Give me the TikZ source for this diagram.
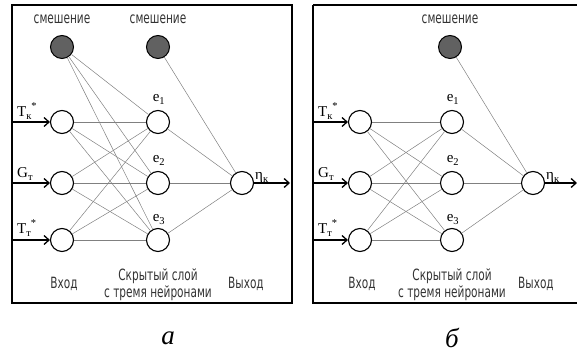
\documentclass[tikz,border=0pt]{standalone}
\usepackage{fontspec}
\setmainfont{Liberation Serif}
\newfontfamily\gost[FakeStretch=0.68]{DejaVu Sans}
\usetikzlibrary{arrows.meta}
\newcommand\lblss[3]{#1\textsubscript{#2}\kern-0.5pt\raisebox{2pt}{\textsuperscript{#3}}}
\begin{document}
\begin{tikzpicture}[x=1pt,y=-1pt,
  neuron/.style={circle,draw,fill=white,line width=1.1pt,minimum size=23pt,inner sep=0pt},
  bias/.style={circle,draw,fill=black!62,line width=1pt,minimum size=23pt,inner sep=0pt},
  conn/.style={draw=black!50,line width=0.5pt},
  inarrow/.style={line width=1.3pt,-{Straight Barb[length=5pt,width=9pt]}},
  gtext/.style={font=\gost\fontsize{15.5}{15.5}\selectfont,text=black!80,inner sep=0pt},
  ltext/.style={font=\fontsize{15}{15}\selectfont,inner sep=0pt},
  captext/.style={font=\itshape\fontsize{27}{27}\selectfont,inner sep=0pt},
  frame/.style={line width=1.5pt}]
\useasboundingbox (0,0) rectangle (577,352);
% ---------- panel a ----------
\draw[frame] (12,5) rectangle (292,303);
\node[bias] (ab1) at (62,47) {};
\node[bias] (ab2) at (158,47) {};
\foreach \i/\y in {1/122,2/183,3/240}{
  \node[neuron] (ai\i) at (62,\y) {};
  \node[neuron] (ah\i) at (158,\y) {};
  \coordinate (aL\i) at (12.5,\y);
}
\node[neuron] (ao) at (242,183) {};
\coordinate (aR) at (290,183);
\foreach \i in {1,2,3}{
  \foreach \j in {1,2,3}{\draw[conn] (ai\i) -- (ah\j);}
  \draw[conn] (ab1) -- (ah\i);
  \draw[conn] (ah\i) -- (ao);
  \draw[inarrow] (aL\i) -- (ai\i);
}
\draw[conn] (ab2) -- (ao);
\draw[inarrow] (ao) -- (aR);
\node[gtext] (as1) at (62,19) {смешение};
\node[gtext] (as2) at (158,19) {смешение};
\node[ltext,anchor=base west] (atk) at (17,117) {\lblss{T}{к}{*}};
\node[ltext,anchor=base west] (agt) at (17,178) {G\textsubscript{т}};
\node[ltext,anchor=base west] (att) at (17,234) {\lblss{T}{т}{*}};
\node[ltext,anchor=base] (ae1) at (159,102) {e\textsubscript{1}};
\node[ltext,anchor=base] (ae2) at (159,163) {e\textsubscript{2}};
\node[ltext,anchor=base] (ae3) at (159,222) {e\textsubscript{3}};
\node[ltext,anchor=base west] (aeta) at (255,180) {η\textsubscript{к}};
\node[gtext] (ain) at (64,284) {Вход};
\node[gtext] (ahid1) at (158,276) {Скрытый слой};
\node[gtext] (ahid2) at (158,293) {с тремя нейронами};
\node[gtext] (aout) at (246,284) {Выход};
\node[captext] (capa) at (168,338) {а};
% ---------- panel b ----------
\draw[frame] (313,5) -- (578,5) (313,5) -- (313,303) -- (578,303) (577.5,5) -- (577.5,303);
\node[bias] (bb) at (450,47) {};
\foreach \i/\y in {1/122,2/183,3/240}{
  \node[neuron] (bi\i) at (360,\y) {};
  \node[neuron] (bh\i) at (452,\y) {};
  \coordinate (bL\i) at (313.5,\y);
}
\node[neuron] (bo) at (533,183) {};
\coordinate (bR) at (577,183);
\foreach \i in {1,2,3}{
  \foreach \j in {1,2,3}{\draw[conn] (bi\i) -- (bh\j);}
  \draw[conn] (bh\i) -- (bo);
  \draw[inarrow] (bL\i) -- (bi\i);
}
\draw[conn] (bb) -- (bo);
\draw[inarrow] (bo) -- (bR);
\node[gtext] (bs) at (450,19) {смешение};
\node[ltext,anchor=base west] (btk) at (318,117) {\lblss{T}{к}{*}};
\node[ltext,anchor=base west] (bgt) at (318,178) {G\textsubscript{т}};
\node[ltext,anchor=base west] (btt) at (318,234) {\lblss{T}{т}{*}};
\node[ltext,anchor=base] (be1) at (453,102) {e\textsubscript{1}};
\node[ltext,anchor=base] (be2) at (453,163) {e\textsubscript{2}};
\node[ltext,anchor=base] (be3) at (453,222) {e\textsubscript{3}};
\node[ltext,anchor=base west] (beta) at (546,180) {η\textsubscript{к}};
\node[gtext] (bin) at (362,284) {Вход};
\node[gtext] (bhid1) at (452,276) {Скрытый слой};
\node[gtext] (bhid2) at (452,293) {с тремя нейронами};
\node[gtext] (bout) at (536,284) {Выход};
\node[captext] (capb) at (452,338) {б};
\end{tikzpicture}
\end{document}
